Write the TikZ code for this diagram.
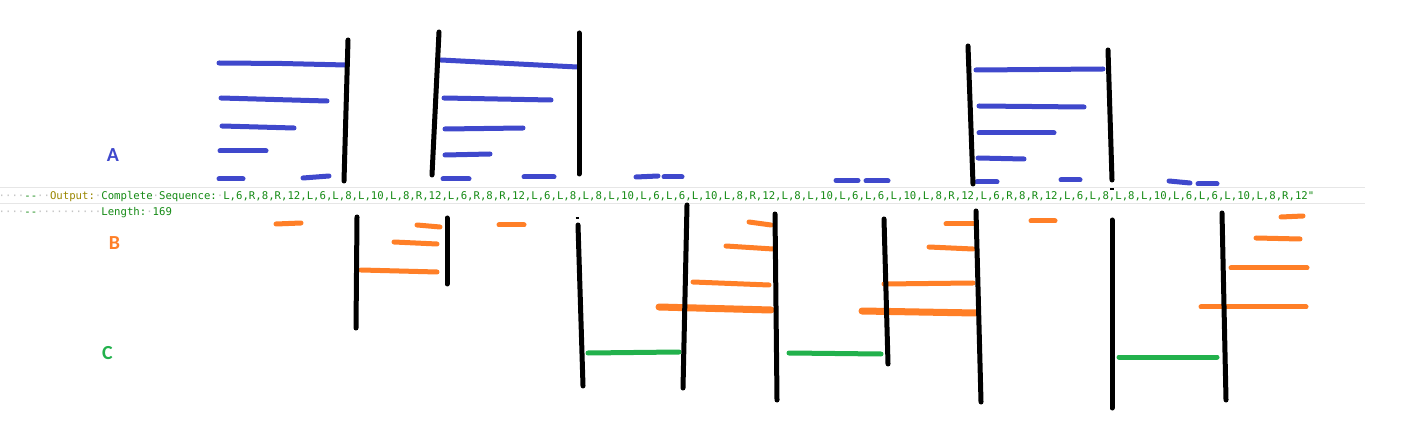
\documentclass[tikz,border=0pt]{standalone}
\usepackage{fontspec}
\newfontfamily\codefont{DejaVu Sans Mono}[Ligatures=TeXOff]
\newfontfamily\labfont{Carlito}
\definecolor{pblue}{HTML}{3F48CC}
\definecolor{porange}{HTML}{FF7F27}
\definecolor{pgreen}{HTML}{22B14C}
\definecolor{codegreen}{HTML}{148A14}
\definecolor{codeolive}{HTML}{9A8700}
\definecolor{wscol}{HTML}{C4C4C4}
\definecolor{sepcol}{HTML}{E6E6E6}
\newcommand\wsd[1]{\textcolor{wscol}{#1}}
\newcommand\cg[1]{\textcolor{codegreen}{#1}}
\tikzset{
  blk/.style={line width=5bp, line cap=round, black},
  blu/.style={line width=5bp, line cap=round, pblue},
  org/.style={line width=5bp, line cap=round, porange},
  orgthick/.style={line width=7bp, line cap=round, porange},
  grn/.style={line width=5bp, line cap=round, pgreen},
  tick/.style={line width=1.5bp, black},
  sepline/.style={line width=1bp, sepcol},
  code/.style={anchor=base west, inner sep=0pt, font=\codefont\fontsize{10.7}{12}\selectfont},
  lab/.style={inner sep=0pt, font=\labfont\bfseries\fontsize{20}{22}\selectfont}
}
\begin{document}
\begin{tikzpicture}[x=1bp,y=-1bp]
\useasboundingbox (0,0) rectangle (1404,446);
\fill[white] (0,0) rectangle (1404,446);

% separator lines
\draw[sepline] (0,188) -- (1365,188);
\draw[sepline] (0,203.5) -- (1365,203.5);

% code text
\node[code] (out) at (-1.5,200) {\wsd{····}\cg{--}\wsd{··}\textcolor{codeolive}{Output:}\wsd{·}\cg{Complete}\wsd{·}\cg{Sequence:}\wsd{·}\cg{L,6,R,8,R,12,L,6,L,8,L,10,L,8,R,12,L,6,R,8,R,12,L,6,L,8,L,8,L,10,L,6,L,6,L,10,L,8,R,12,L,8,L,10,L,6,L,6,L,10,L,8,R,12,L,6,R,8,R,12,L,6,L,8,L,8,L,10,L,6,L,6,L,10,L,8,R,12"}};
\node[code] (len) at (-1.5,215.5) {\wsd{····}\cg{--}\wsd{··········}\cg{Length:}\wsd{·}\cg{169}};

% labels
\node[lab, text=pblue] (A) at (113,155) {A};
\node[lab, text=porange] (B) at (114.5,243.5) {B};
\node[lab, text=pgreen] (C) at (107.5,353.5) {C};

% ---------- A: blue strokes ----------
\draw[blu] (219,63) -- (282,63.5) -- (346,65);
\draw[blu] (221,98) -- (327,101);
\draw[blu] (222,126) -- (294,128);
\draw[blu] (220,151) -- (266,151);
\draw[blu] (219,179) -- (243,179);
\draw[blu] (303,178) -- (329,176);

\draw[blu] (441,60) -- (577,67);
\draw[blu] (444,98) -- (551,100);
\draw[blu] (445,129) -- (523,128);
\draw[blu] (445,155) -- (490,154);
\draw[blu] (443,179) -- (469,179);
\draw[blu] (524,177) -- (554,177);

\draw[blu] (636,177) -- (658,176);
\draw[blu] (664,177) -- (682,177);
\draw[blu] (836,180.5) -- (858,180.5);
\draw[blu] (866,181) -- (888,181);

\draw[blu] (976,70) -- (1103,69);
\draw[blu] (979,106) -- (1084,107);
\draw[blu] (979,133) -- (1054,133);
\draw[blu] (978,158) -- (1024,159);
\draw[blu] (977,182) -- (997,182);
\draw[blu] (1061,180) -- (1080,180);
\draw[blu] (1169,181) -- (1190,183);
\draw[blu] (1198,184) -- (1217,184);

% black verticals, top
\draw[blk] (348,40) -- (344,181);
\draw[blk] (439,32) -- (432,175);
\draw[blk] (579,33) -- (579,174);
\draw[blk] (968,46) -- (973,184);
\draw[blk] (1108,50) -- (1112,180);

% ---------- B: orange strokes ----------
\draw[org] (276,224) -- (301,223);
\draw[org] (417,225) -- (440,227);
\draw[org] (394,242) -- (437,244);
\draw[org] (361,270) -- (437,272);
\draw[org] (499,225) -- (524,225);

\draw[org] (749,222) -- (771,225);
\draw[org] (726,246) -- (773,249);
\draw[org] (693,282) -- (769,285);
\draw[orgthick] (659,307) -- (771,310);

\draw[org] (946,224) -- (974,224);
\draw[org] (929,247) -- (973,249);
\draw[org] (884,284) -- (973,283);
\draw[orgthick] (862,311) -- (976,313);

\draw[org] (1031,221) -- (1055,221);
\draw[org] (1281,217) -- (1303,216);
\draw[org] (1256,238) -- (1300,239);
\draw[org] (1231,268) -- (1307,268);
\draw[org] (1201,307) -- (1306,307);

% ---------- C: green strokes ----------
\draw[grn] (588,353) -- (679,352);
\draw[grn] (789,353) -- (881,354);
\draw[grn] (1119,357) -- (1217,357);

% black verticals, bottom
\draw[blk] (357,217) -- (356,328);
\draw[blk] (447,218) -- (447,284);
\draw[blk] (578,225) -- (583,386);
\draw[blk] (687,205) -- (683,388);
\draw[blk] (775,214) -- (777,400);
\draw[blk] (884,219) -- (888,364);
\draw[blk] (976,211) -- (981,402);
\draw[blk] (1112,220) -- (1112,408);
\draw[blk] (1222,213) -- (1226,400);

% small ticks
\draw[tick] (575.5,218) -- (579,218);
\draw[tick] (1110,189) -- (1114,189);
\end{tikzpicture}
\end{document}
